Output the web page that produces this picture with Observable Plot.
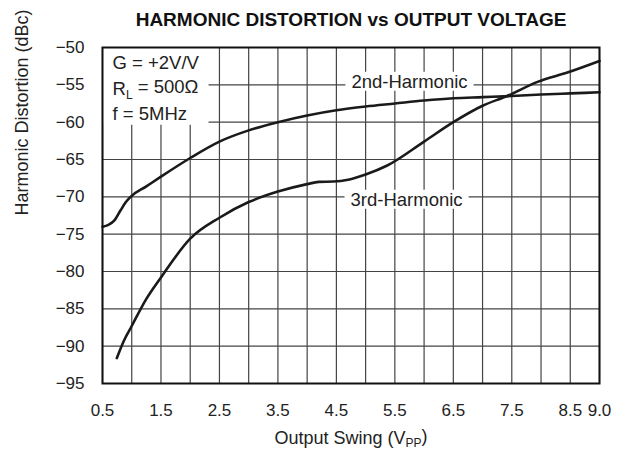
<!DOCTYPE html>
<html>
<head>
<meta charset="utf-8">
<script src="https://cdn.jsdelivr.net/npm/d3@7"></script>
<script src="https://cdn.jsdelivr.net/npm/@observablehq/plot@0.6"></script>
<style>
  html, body { margin: 0; padding: 0; background: #fff; }
  #chart { width: 620px; height: 454px; }
</style>
</head>
<body>
<div id="chart"></div>
<script>
// ---- data ----
const title = "HARMONIC DISTORTION vs OUTPUT VOLTAGE";
const xLabel = "Output Swing (VPP)";
const yLabel = "Harmonic Distortion (dBc)";
const conditions = ["G = +2V/V", "RL = 500Ω", "f = 5MHz"];

const xTicks = [0.5, 1.5, 2.5, 3.5, 4.5, 5.5, 6.5, 7.5, 8.5, 9.0];
const xGrid = [0.5, 1, 1.5, 2, 2.5, 3, 3.5, 4, 4.5, 5, 5.5, 6, 6.5, 7, 7.5, 8, 8.5, 9];
const yTicks = [-50, -55, -60, -65, -70, -75, -80, -85, -90, -95];

const h2X = [0.5, 0.6, 0.7, 0.81, 0.9, 0.98, 1.25, 1.5, 2.0, 2.5, 3.0, 3.5, 4.0, 4.5, 5.0, 5.5, 6.0, 6.5, 7.0, 7.5, 8.0, 8.5, 9.0];
const h2Y = [-74.0, -73.75, -73.2, -71.8, -70.7, -70.0, -68.6, -67.3, -64.8, -62.6, -61.1, -60.0, -59.1, -58.4, -57.9, -57.5, -57.1, -56.8, -56.65, -56.5, -56.3, -56.15, -56.0];

const h3X = [0.745, 0.87, 1.0, 1.24, 1.5, 2.0, 2.5, 3.0, 3.5, 4.0, 4.2, 4.45, 4.7, 5.0, 5.37, 6.0, 6.5, 7.0, 7.42, 7.94, 8.45, 9.0];
const h3Y = [-91.6, -89.2, -87.3, -83.8, -80.8, -75.6, -72.8, -70.7, -69.3, -68.3, -68.0, -67.95, -67.7, -67.0, -65.8, -62.6, -60.0, -57.8, -56.5, -54.6, -53.35, -51.8];

const seriesNames = ["2nd-Harmonic", "3rd-Harmonic"];
const labelX = [5.75, 5.7];
const labelY = [-54.6, -70.4];

// ---- build tables ----
const h2 = h2X.map((x, i) => ({x, y: h2Y[i]}));
const h3 = h3X.map((x, i) => ({x, y: h3Y[i]}));
const labels = seriesNames.map((t, i) => ({t, x: labelX[i], y: labelY[i]}));

const font = "'Liberation Sans', Arial, Helvetica, sans-serif";

const chart = Plot.plot({
  width: 620,
  height: 454,
  marginLeft: 102,
  marginRight: 21,
  marginTop: 47,
  marginBottom: 71,
  style: {fontFamily: font, fontSize: "17px", color: "#222", background: "#fff"},
  x: {domain: [0.5, 9.0], ticks: xTicks, tickFormat: d => d.toFixed(1), tickSize: 0, tickPadding: 20, label: null},
  y: {domain: [-95, -50], ticks: yTicks, tickFormat: d => (d < 0 ? "\u2212" : "") + Math.abs(d), tickSize: 0, tickPadding: 18, label: null},
  marks: [
    Plot.gridX(xGrid, {stroke: "#444", strokeOpacity: 1, strokeWidth: 1.2}),
    Plot.gridY(yTicks, {stroke: "#444", strokeOpacity: 1, strokeWidth: 1.2}),
    Plot.line(h2, {x: "x", y: "y", curve: "monotone-x", stroke: "#1a1a1a", strokeWidth: 2.6}),
    Plot.line(h3, {x: "x", y: "y", curve: "monotone-x", stroke: "#1a1a1a", strokeWidth: 2.6}),
    Plot.text(labels, {x: "x", y: "y", text: "t", fontSize: 18.5, fill: "#222"}),
    Plot.text([conditions.join("\n")], {frameAnchor: "top-left", dx: 10, dy: 3, fontSize: 18.5, lineHeight: 1.42, fill: "#222", textAnchor: "start"}),
    Plot.frame({stroke: "#111", strokeWidth: 2}),
    Plot.text([title], {frameAnchor: "top", dy: -35, fontSize: 19, fontWeight: "bold", fill: "#111"}),
    Plot.text([xLabel], {frameAnchor: "bottom", dy: 60, fontSize: 18, fill: "#222"}),
    Plot.text([yLabel], {frameAnchor: "left", dx: -80, rotate: -90, fontSize: 18, fill: "#222"})
  ]
});

document.getElementById("chart").appendChild(chart);
const svg = d3.select(chart);

// subscripts
svg.selectAll("text, tspan").each(function() {
  const el = d3.select(this);
  if (this.childElementCount > 0) return;
  const s = el.text();
  if (s === "Output Swing (VPP)") {
    el.text("Output Swing (V");
    el.append("tspan").attr("font-size", "12px").attr("dy", "0.3em").text("PP");
    el.append("tspan").attr("dy", "-0.3em").text(")");
  } else if (s === "RL = 500Ω") {
    el.text("R");
    el.append("tspan").attr("font-size", "12px").attr("dy", "0.3em").text("L");
    el.append("tspan").attr("dy", "-0.3em").text(" = 500Ω");
  }
});

// white backing boxes behind in-plot labels (sized from the rendered text)
const svgCTM = chart.getScreenCTM().inverse();
function backText(node, padX, padY, extendTo) {
  const b = node.getBBox();
  const m = svgCTM.multiply(node.getScreenCTM()); // text-local -> svg coords (translation only)
  const x0 = extendTo ? extendTo.x - m.e : b.x - padX;
  const y0 = extendTo ? extendTo.y - m.f : b.y - padY;
  d3.select(node.parentNode).insert("rect", () => node)
    .attr("transform", node.getAttribute("transform"))
    .attr("x", x0).attr("y", y0)
    .attr("width", b.x + b.width + padX - x0)
    .attr("height", b.y + b.height + padY - y0)
    .attr("fill", "#fff");
}
const frameLeft = 102, frameTop = 47;
svg.selectAll("text").each(function() {
  const s = this.textContent;
  if (seriesNames.includes(s)) backText(this, 6, -1, null);
  else if (s.startsWith("G = ")) backText(this, 9, 1, {x: frameLeft, y: frameTop});
});
</script>
</body>
</html>
